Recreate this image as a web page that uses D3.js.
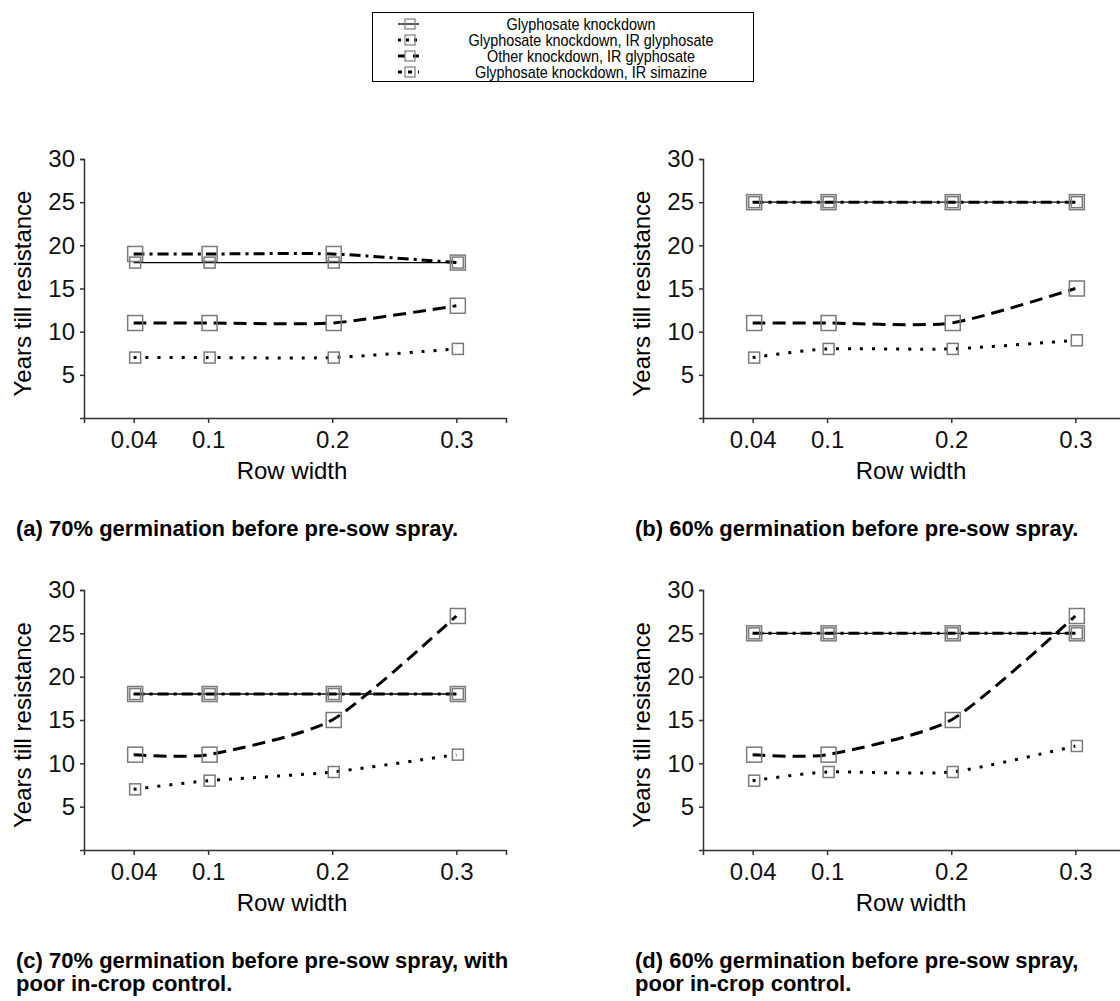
<!DOCTYPE html>
<html>
<head>
<meta charset="utf-8">
<script src="https://cdn.jsdelivr.net/npm/d3@7"></script>
<style>
  body { margin: 0; background: #fff; }
  svg { display: block; font-family: "Liberation Sans", Arial, sans-serif; }
  .axis path, .axis line { stroke: #333; stroke-width: 1.5; }
  .axis text { font-size: 24px; fill: #111; }
</style>
</head>
<body>
<svg width="1120" height="1001"></svg>
<script>
// data
var rowWidths = [0.04, 0.1, 0.2, 0.3]
var yTicks = [5, 10, 15, 20, 25, 30]
var seriesNames = ["Glyphosate knockdown", "Glyphosate knockdown, IR glyphosate",
                   "Other knockdown, IR glyphosate", "Glyphosate knockdown, IR simazine"]

// one array per series, one row per panel (a..d)
var glyKnock = [[18, 18, 18, 18], [25, 25, 25, 25], [18, 18, 18, 18], [25, 25, 25, 25]]
var irGly    = [[7, 7, 7, 8],     [7, 8, 8, 9],     [7, 8, 9, 11],    [8, 9, 9, 12]]
var otherGly = [[11, 11, 11, 13], [11, 11, 11, 15], [11, 11, 15, 27], [11, 11, 15, 27]]
var irSima   = [[19, 19, 19, 18], [25, 25, 25, 25], [18, 18, 18, 18], [25, 25, 25, 25]]

// panel (d) runs off the right edge in the reference, only the visible part is kept
var captions = [
  ["(a) 70% germination before pre-sow spray."],
  ["(b) 60% germination before pre-sow spray."],
  ["(c) 70% germination before pre-sow spray, with", "poor in-crop control."],
  ["(d) 60% germination before pre-sow spray,", "poor in-crop control."]
]

// line styles per series
var styles = [
  {width: 1.3, dash: null,        box: 11, legendDash: null},
  {width: 3,   dash: "3,9",       box: 11, legendDash: "3,5"},
  {width: 3,   dash: "13,7",      box: 15, legendDash: "7,8"},
  {width: 3,   dash: "11,5,3,5",  box: 15, legendDash: "4,6"}
]

var svg = d3.select("svg")
var panels = [
  {left: 84,  top: 159, bottom: 418},
  {left: 703, top: 159, bottom: 418},
  {left: 84,  top: 590, bottom: 850},
  {left: 703, top: 590, bottom: 850}
]
var plotWidth = 422

panels.forEach(function(p, i) {
  var xScale = d3.scaleLinear().domain([0, 0.34]).range([p.left, p.left + plotWidth])
  var yScale = d3.scaleLinear().domain([0, 30]).range([p.bottom, p.top])

  var g = svg.append("g")

  g.append("g").classed("axis", true)
    .attr("transform", "translate(0," + p.bottom + ")")
    .call(d3.axisBottom(xScale).tickValues(rowWidths).tickFormat(d3.format("")).tickSizeOuter(0).tickSize(5).tickPadding(8))

  g.append("g").classed("axis", true)
    .attr("transform", "translate(" + p.left + ",0)")
    .call(d3.axisLeft(yScale).tickValues(yTicks).tickSizeOuter(0).tickSize(4).tickPadding(5))

  g.selectAll(".axis text").attr("font-family", null)

  g.append("text")
    .attr("transform", "translate(" + (p.left - 53) + "," + ((p.top + p.bottom) / 2 + 5) + ") rotate(-90)")
    .attr("text-anchor", "middle")
    .style("font-size", "24px")
    .text("Years  till resistance")

  g.append("text")
    .attr("x", p.left + plotWidth / 2 - 3)
    .attr("y", p.bottom + 61)
    .attr("text-anchor", "middle")
    .style("font-size", "24px")
    .text("Row width")

  var allSeries = [glyKnock[i], irGly[i], otherGly[i], irSima[i]]
  var line = d3.line()
    .x(function(d, k) { return xScale(rowWidths[k]) })
    .y(function(d) { return yScale(d) })
    .curve(d3.curveCardinal.tension(0.35))

  allSeries.forEach(function(vals, s) {
    g.append("path")
      .attr("d", line(vals))
      .attr("fill", "none")
      .attr("stroke", "#000")
      .attr("stroke-width", styles[s].width)
      .attr("stroke-dasharray", styles[s].dash)
  })

  allSeries.forEach(function(vals, s) {
    var b = styles[s].box
    g.selectAll(null).data(vals).enter().append("rect")
      .attr("x", function(d, k) { return xScale(rowWidths[k]) + 1.5 - b / 2 })
      .attr("y", function(d) { return yScale(d) - b / 2 })
      .attr("width", b)
      .attr("height", b)
      .attr("fill", "none")
      .attr("stroke", "#7a7a7a")
      .attr("stroke-width", 1.5)
  })

  var cap = g.append("text")
    .attr("x", p.left - 68)
    .attr("y", p.bottom + 118)
    .style("font-size", "22px")
    .style("font-weight", "bold")
  captions[i].forEach(function(t, k) {
    cap.append("tspan").attr("x", p.left - 68).attr("dy", k == 0 ? 0 : 23).text(t)
  })
})

// legend
var legend = svg.append("g")
legend.append("rect")
  .attr("x", 372.5).attr("y", 12.5).attr("width", 381).attr("height", 69)
  .attr("fill", "#fff").attr("stroke", "#000").attr("stroke-width", 1)

seriesNames.forEach(function(name, s) {
  var y = 24 + s * 16
  legend.append("line")
    .attr("x1", 398).attr("x2", 419).attr("y1", y).attr("y2", y)
    .attr("stroke", "#000")
    .attr("stroke-width", styles[s].width)
    .attr("stroke-dasharray", styles[s].legendDash)
  legend.append("rect")
    .attr("x", 405).attr("y", y - 5).attr("width", 10).attr("height", 10)
    .attr("fill", "none")
    .attr("stroke", "#7a7a7a").attr("stroke-width", 1.2)
  legend.append("text")
    .attr("transform", "translate(" + (s == 0 ? 581 : 591) + "," + (y + 6) + ") scale(0.9,1)")
    .attr("text-anchor", "middle")
    .style("font-size", "16px")
    .text(name)
})
</script>
</body>
</html>
